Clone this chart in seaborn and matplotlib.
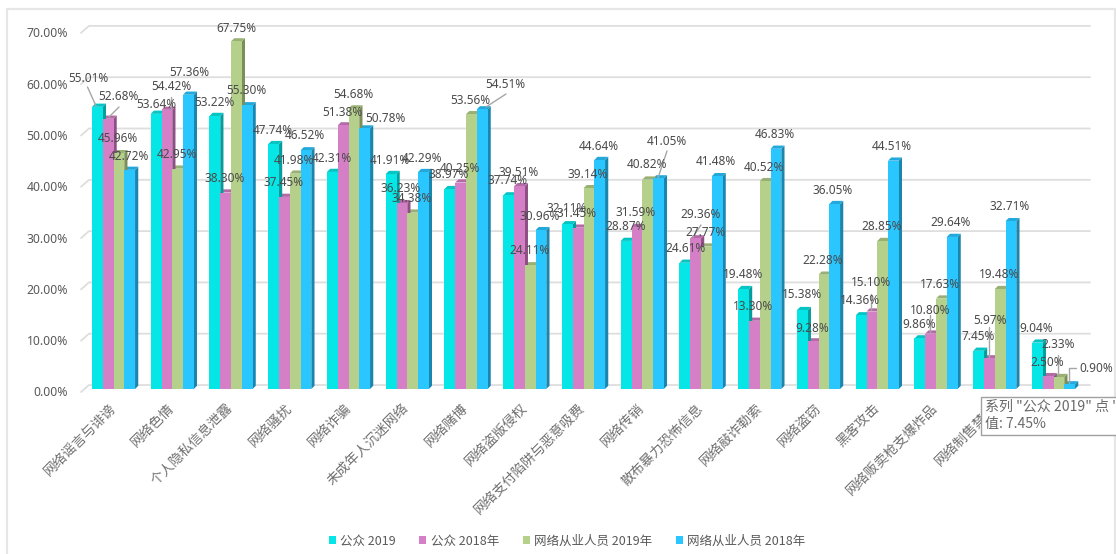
import matplotlib
matplotlib.use("Agg")
import matplotlib.pyplot as plt
import pandas as pd
import seaborn as sns
from matplotlib.patches import Polygon, Rectangle
from matplotlib.lines import Line2D

categories = ["网络谣言与诽谤", "网络色情", "个人隐私信息泄露", "网络骚扰", "网络诈骗", "未成年人沉迷网络",
              "网络赌博", "网络盗版侵权", "网络支付陷阱与恶意吸费", "网络传销", "散布暴力恐怖信息",
              "网络敲诈勒索", "网络盗窃", "黑客攻击", "网络贩卖枪支爆炸品", "网络制售禁品", "其他"]
public_2019 = [55.01, 53.64, 53.22, 47.74, 42.31, 41.91, 38.97, 37.74, 32.11, 28.87, 24.61, 19.48, 15.38, 14.36, 9.86, 7.45, 9.04]
public_2018 = [52.68, 54.42, 38.30, 37.45, 51.38, 36.23, 40.25, 39.51, 31.45, 31.59, 29.36, 13.30, 9.28, 15.10, 10.80, 5.97, 2.50]
pro_2019 = [45.96, 42.95, 67.75, 41.98, 54.68, 34.38, 53.56, 24.11, 39.14, 40.82, 27.77, 40.52, 22.28, 28.85, 17.63, 19.48, 2.33]
pro_2018 = [42.72, 57.36, 55.30, 46.52, 50.78, 42.29, 54.51, 30.96, 44.64, 41.05, 41.48, 46.83, 36.05, 44.51, 29.64, 32.71, 0.90]
series_names = ["公众 2019", "公众 2018年", "网络从业人员 2019年", "网络从业人员 2018年"]
series_values = [public_2019, public_2018, pro_2019, pro_2018]
y_ticks = [0, 10, 20, 30, 40, 50, 60, 70]

colors = ["#07E6E6", "#D57FC6", "#B4D08A", "#2AC6FF"]
sides = ["#049C9C", "#8E4F84", "#7C8F58", "#1A85AD"]
tops = ["#05C4C4", "#B56AA8", "#98B073", "#22A8DA"]
TXT = "#595959"
CJK = ["Noto Sans CJK SC", "DejaVu Sans"]
NUM = ["Noto Sans", "Noto Sans CJK SC"]

# label centres in image pixels, laid out per series then category
label_px = [
    [(88,78),(156,104),(214,102),(273,131),(332,158),(390,161),(449,175),(508,181),(567,209),(626,227),(685,249),(743,275),(802,295),(860,301),(919,324),(978,336),(1036,328)],
    [(118,97),(171,87),(225,179),(284,183),(342,112),(401,189),(460,169),(519,172),(577,214),(636,213),(701,215),(753,307),(812,328),(871,283),(930,310),(990,321),(1047,362)],
    [(118,139),(177,155),(236,28),(294,160),(353,95),(412,199),(470,100),(529,251),(588,174),(647,165),(705,232),(764,167),(823,261),(882,227),(940,284),(999,275),(1058,345)],
    [(129,156),(189,72),(246,91),(305,136),(385,119),(422,158),(505,85),(540,216),(599,146),(667,141),(716,162),(775,135),(833,190),(892,147),(951,223),(1010,207),(1096,368)],
]
leaders = [[(87.5,87),(96,106)], [(119,107),(109,117)], [(506,94),(486,107)], [(667,151),(658,178)],
           [(1076,368),(1069,368),(1069,383)], [(1058,355),(1058,375)], [(989,327),(989,357)],
           [(871,294),(871,310)], [(171,97),(171,108)], [(930,315),(930,332)], [(701,225),(693,237)]]

W, H = 1116, 554
BASE, PX_PER = 389.0, 5.13
LEFT, UNIT = 84.15, 58.75

def fx(x): return x / W
def fy(y): return 1 - y / H

df = pd.DataFrame({
    "cat": categories * 4,
    "series": [n for n in series_names for _ in categories],
    "value": [v for vals in series_values for v in vals],
})

sns.set_theme(style="white")
plt.rcParams["font.family"] = CJK
fig = plt.figure(figsize=(W / 100, H / 100), dpi=100)
ax = fig.add_axes([fx(LEFT), fy(BASE), UNIT * 17 / W, BASE / H])
sns.barplot(data=df, x="cat", y="value", hue="series", palette=colors, width=0.733,
            saturation=1, dodge=True, gap=0, ax=ax, linewidth=0, zorder=4)
ax.set_xlim(-0.5, 16.5)
ax.set_ylim(0, BASE / PX_PER)
ax.patch.set_alpha(0)
ax.set_xlabel("")
ax.set_ylabel("")
for s in ax.spines.values():
    s.set_visible(False)
ax.set_yticks([])
ax.set_xticks(range(len(categories)))
ax.set_xticklabels([])
ax.tick_params(length=0)

# Frame of the chart area
fig.add_artist(Line2D([fx(6.5), fx(6.5), fx(1115), fx(1115)], [fy(554), fy(9), fy(9), fy(554)],
                      color="#E6E6E6", lw=1.6))

# Back wall gridlines with slanted floor ticks
for t in y_ticks:
    y = BASE - t * PX_PER
    fig.add_artist(Line2D([fx(81), fx(89), fx(1090)], [fy(y + 3), fy(y - 4), fy(y - 4)],
                          color="#DEDEDE", lw=1.3, zorder=0))
    fig.text(fx(68), fy(y + 4), f"{t:.2f}%", ha="right", va="center", fontsize=8.8,
             color=TXT, family=NUM)

# 3D faces derived from the bars the library drew
dx_d, dy_d = 3.2 / UNIT, 3.2 / PX_PER
containers = [c for c in ax.containers]
for k, cont in enumerate(containers):
    for bar in cont:
        x0, w, h = bar.get_x(), bar.get_width(), bar.get_height()
        ax.add_patch(Polygon([(x0 + w, 0), (x0 + w + dx_d, dy_d), (x0 + w + dx_d, h + dy_d), (x0 + w, h)],
                             closed=True, fc=sides[k], ec="none", zorder=3 - k * 0.1 + 0.5))
        ax.add_patch(Polygon([(x0, h), (x0 + dx_d, h + dy_d), (x0 + w + dx_d, h + dy_d), (x0 + w, h)],
                             closed=True, fc=tops[k], ec="none", zorder=3 - k * 0.1 + 0.5))
# keep lower-numbered series behind their right neighbour
for k, cont in enumerate(containers):
    for bar in cont:
        bar.set_zorder(4 + k * 0.1)

# Category labels
for i, c in enumerate(categories):
    x = LEFT + UNIT * (i + 0.5) - 5
    fig.text(fx(x), fy(401), c, rotation=45, rotation_mode="anchor", ha="right", va="top",
             fontsize=9.8, color="#707070", family=CJK)

# Value labels
for k, vals in enumerate(series_values):
    for v, (px, py) in zip(vals, label_px[k]):
        fig.text(fx(px), fy(py), f"{v:.2f}%", ha="center", va="center", fontsize=8.5,
                 color="#4A4A4A", family=NUM, zorder=10)

for pts in leaders:
    fig.add_artist(Line2D([fx(p[0]) for p in pts], [fy(p[1]) for p in pts], color="#A6A6A6", lw=1, zorder=9))

# Legend
sns.move_legend(ax, "center", bbox_to_anchor=(fx(567), fy(541)), bbox_transform=fig.transFigure,
                ncol=4, frameon=False, title=None, fontsize=9.0, handlelength=0.55, handleheight=0.55,
                handletextpad=0.35, columnspacing=1.9, labelcolor=TXT)

# Tooltip on top of the chart
fig.add_artist(Rectangle((fx(981), fy(435)), (1130 - 981) / W, 38 / H, transform=fig.transFigure,
                         fc="white", ec="#A0A0A0", lw=1, zorder=20))
fig.text(fx(985), fy(407), '系列 "公众 2019" 点 "', fontsize=10.1, color="#6A6A6A", va="center", family=CJK, zorder=21)
fig.text(fx(985), fy(424), '值: 7.45%', fontsize=10.1, color="#6A6A6A", va="center", family=CJK, zorder=21)

fig.savefig("out.png", dpi=100, facecolor="white")
